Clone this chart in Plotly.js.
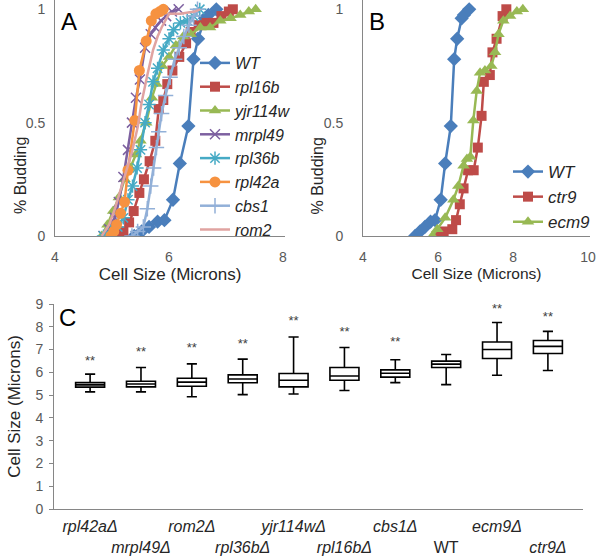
<!DOCTYPE html>
<html>
<head>
<meta charset="utf-8">
<script src="https://cdn.plot.ly/plotly-3.0.1.min.js"></script>
<style>html,body{margin:0;padding:0;background:#fff;}#chart{width:600px;height:556px;}</style>
</head>
<body>
<div id="chart"></div>
<script>
// ---- Panel A / B : cumulative % budding vs cell size ----
const wtX = [5.39,5.52,5.65,5.80,5.92,6.07,6.19,6.34,6.43,6.51,6.63,6.69,6.83];
const wtY = [0,0.02,0.04,0.063,0.07,0.16,0.32,0.485,0.78,0.87,0.96,0.975,1.0];
const rpl16bX = [5.08,5.2,5.3,5.38,5.48,5.56,5.66,5.76,5.82,5.90,5.97,6.06,6.18,6.30,6.38,6.52,6.66,6.78,6.92,7.05,7.12];
const rpl16bY = [0,0.02,0.06,0.11,0.19,0.25,0.33,0.42,0.56,0.60,0.67,0.73,0.79,0.85,0.90,0.93,0.94,0.94,0.97,0.99,1.0];
const yjr114wX = [4.82,4.92,5.02,5.12,5.22,5.32,5.42,5.50,5.60,5.70,5.78,5.88,6.00,6.12,6.25,6.38,6.55,6.72,6.90,7.08,7.25,7.40,7.52];
const yjr114wY = [0,0.05,0.11,0.17,0.25,0.30,0.36,0.42,0.50,0.61,0.67,0.75,0.79,0.84,0.88,0.89,0.92,0.92,0.95,0.96,0.975,0.99,1.0];
const mrpl49X = [4.85,4.95,5.05,5.12,5.20,5.28,5.35,5.42,5.49,5.58,5.68,5.76,5.86,5.95,6.05,6.17];
const mrpl49Y = [0,0.03,0.08,0.15,0.26,0.38,0.50,0.61,0.69,0.83,0.89,0.92,0.95,0.97,0.99,1.0];
const rpl36bX = [4.85,4.98,5.1,5.2,5.28,5.36,5.44,5.50,5.58,5.65,5.72,5.80,5.90,6.0,6.08,6.2,6.32,6.43,6.54];
const rpl36bY = [0,0.02,0.04,0.08,0.16,0.22,0.30,0.38,0.50,0.58,0.68,0.74,0.82,0.87,0.91,0.94,0.95,0.97,1.0];
const rpl42aX = [4.98,5.03,5.08,5.15,5.22,5.28,5.40,5.48,5.60,5.69,5.77,5.84,5.90];
const rpl42aY = [0,0.02,0.05,0.10,0.15,0.29,0.51,0.73,0.86,0.95,0.98,0.99,1.0];
const cbs1X = [5.35,5.45,5.55,5.62,5.68,5.73,5.78,5.82,5.87,5.94,6.02,6.10,6.18,6.26,6.35,6.43,6.50];
const cbs1Y = [0,0.02,0.04,0.12,0.22,0.30,0.39,0.46,0.54,0.62,0.70,0.78,0.83,0.88,0.93,0.97,1.0];
const rom2X = [4.82,4.95,5.05,5.15,5.25,5.35,5.45,5.52,5.62,5.72,5.80,5.87,6.0,6.2,6.45,6.55];
const rom2Y = [0,0.05,0.12,0.2,0.28,0.37,0.48,0.59,0.71,0.82,0.88,0.92,0.98,0.98,0.99,1.0];
const ctr9X = [6.05,6.15,6.38,6.48,6.58,6.68,6.80,6.95,7.06,7.16,7.22,7.38,7.45,7.56,7.72,7.82];
const ctr9Y = [0,0.02,0.03,0.07,0.14,0.21,0.29,0.29,0.39,0.53,0.68,0.71,0.81,0.87,0.97,1.0];
const ecm9X = [5.85,5.98,6.19,6.41,6.54,6.68,6.77,6.86,6.94,7.03,7.12,7.25,7.42,7.52,7.61,7.74,7.92,8.10,8.26];
const ecm9Y = [0.0,0.03,0.08,0.16,0.22,0.31,0.34,0.35,0.51,0.64,0.72,0.73,0.75,0.81,0.89,0.95,0.97,0.99,1.0];

// ---- Panel C : box plots ----
const strains = ["rpl42aΔ","mrpl49Δ","rom2Δ","rpl36bΔ","yjr114wΔ","rpl16bΔ","cbs1Δ","WT","ecm9Δ","ctr9Δ"];
const strainLabels = ["<i>rpl42aΔ</i>","<br><i>mrpl49Δ</i>","<i>rom2Δ</i>","<br><i>rpl36bΔ</i>","<i>yjr114wΔ</i>","<br><i>rpl16bΔ</i>","<i>cbs1Δ</i>","<br>WT","<i>ecm9Δ</i>","<br><i>ctr9Δ</i>"];
const lowW  = [5.14,5.14,4.93,5.02,5.05,5.20,5.55,5.46,5.87,6.08];
const q1    = [5.35,5.36,5.39,5.54,5.36,5.65,5.79,6.21,6.61,6.83];
const med   = [5.45,5.49,5.57,5.71,5.65,5.84,5.96,6.36,7.00,7.14];
const q3    = [5.55,5.61,5.74,5.89,5.95,6.21,6.11,6.49,7.33,7.40];
const highW = [5.92,6.21,6.37,6.58,7.55,7.09,6.55,6.78,8.19,7.80];
const starY = [6.48,6.84,7.02,7.21,8.24,7.75,7.28,null,8.75,8.38];
const starText = ["**","**","**","**","**","**","**","","**","**"];

const FONT = "Arial, 'Liberation Sans', sans-serif";
const AX = "#868686";
const TXT = "#404040";

function ser(x, y, name, color, symbol, size, xa, ya, legend, mode, mline) {
  return {
    type: "scatter", mode: mode || "lines+markers", x: x, y: y, name: name,
    xaxis: xa, yaxis: ya, legend: legend,
    line: {color: color, width: 2.5},
    marker: Object.assign({symbol: symbol, size: size, color: color}, mline ? {line: {color: color, width: mline}} : {}),
    hoverinfo: "skip"
  };
}

const traces = [
  ser(wtX, wtY, "WT", "#4a7ebb", "diamond", 11, "x", "y", "legend"),
  ser(rpl16bX, rpl16bY, "rpl16b", "#be4b48", "square", 10, "x", "y", "legend"),
  ser(yjr114wX, yjr114wY, "yjr114w", "#98b954", "triangle-up", 11, "x", "y", "legend"),
  ser(mrpl49X, mrpl49Y, "mrpl49", "#7d60a0", "x-thin-open", 10, "x", "y", "legend", null, 1.5),
  ser(rpl36bX, rpl36bY, "rpl36b", "#46aac5", "asterisk-open", 11, "x", "y", "legend", null, 1.5),
  ser(rpl42aX, rpl42aY, "rpl42a", "#f69240", "circle", 11, "x", "y", "legend"),
  ser(cbs1X, cbs1Y, "cbs1", "#92b0d8", "cross-thin-open", 11, "x", "y", "legend", null, 1.5),
  ser(rom2X, rom2Y, "rom2", "#e0a3a1", "circle", 1, "x", "y", "legend", "lines"),
  ser(wtX, wtY, "WT", "#4a7ebb", "diamond", 11, "x2", "y2", "legend2"),
  ser(ctr9X, ctr9Y, "ctr9", "#be4b48", "square", 10, "x2", "y2", "legend2"),
  ser(ecm9X, ecm9Y, "ecm9", "#98b954", "triangle-up", 11, "x2", "y2", "legend2"),
  {
    type: "box", x: strains, q1: q1, median: med, q3: q3, lowerfence: lowW, upperfence: highW,
    xaxis: "x3", yaxis: "y3", showlegend: false, boxpoints: false,
    width: 0.57, whiskerwidth: 0.35, fillcolor: "#ffffff",
    line: {color: "#000000", width: 1.6}, hoverinfo: "skip"
  },
  {
    type: "scatter", mode: "text", x: strains, y: starY, text: starText,
    xaxis: "x3", yaxis: "y3", showlegend: false, hoverinfo: "skip",
    textfont: {family: FONT, size: 13, color: TXT}
  }
];

const baseAx = {showgrid: false, zeroline: false, showline: true, linecolor: AX, linewidth: 1,
  tickfont: {family: FONT, size: 14, color: "#595959"}, ticks: "", fixedrange: true};

const layout = {
  width: 600, height: 556,
  margin: {l: 0, r: 0, t: 0, b: 0},
  paper_bgcolor: "#ffffff", plot_bgcolor: "#ffffff",
  font: {family: FONT, color: TXT},
  xaxis: Object.assign({}, baseAx, {domain: [55/600, 285/600], range: [4, 8.035], tickvals: [4,6,8], anchor: "y",
    ticklabelstandoff: 8,
    title: {text: "Cell Size (Microns)", font: {family: FONT, size: 17, color: "#262626"}, standoff: 0}}),
  yaxis: Object.assign({}, baseAx, {domain: [1-236/556, 1], range: [0, 1.041], tickvals: [0,0.5,1], ticktext: ["0","0.5","1"], anchor: "x",
    ticklabelstandoff: 6}),
  xaxis2: Object.assign({}, baseAx, {domain: [363/600, 590/600], range: [4, 10.05], tickvals: [4,6,8,10], anchor: "y2",
    ticklabelstandoff: 8,
    title: {text: "Cell Size (Microns)", font: {family: FONT, size: 15.5, color: "#262626"}, standoff: 0}}),
  yaxis2: Object.assign({}, baseAx, {domain: [1-236/556, 1], range: [0, 1.041], tickvals: [0,0.5,1], ticktext: ["0","0.5","1"], anchor: "x2",
    ticklabelstandoff: 16}),
  xaxis3: Object.assign({}, baseAx, {domain: [54/600, 583/600], type: "category", range: [-0.71, 9.69], anchor: "y3",
    tickvals: strains, ticktext: strainLabels, ticklabelstandoff: 3, tickangle: 0,
    tickfont: {family: FONT, size: 16, color: "#262626"}}),
  yaxis3: Object.assign({}, baseAx, {domain: [1-509/556, 1-304/556], range: [0, 9], dtick: 1, tick0: 0, anchor: "x3",
    ticks: "outside", ticklen: 4, tickcolor: AX, ticklabelstandoff: 3,
    tickfont: {family: FONT, size: 14, color: "#595959"},
    title: {text: "Cell Size (Microns)", font: {family: FONT, size: 17, color: "#262626"}, standoff: 10}}),
  legend: {x: 195/600, y: 1-46/556, xanchor: "left", yanchor: "top", bgcolor: "rgba(0,0,0,0)",
    font: {family: FONT, size: 16, color: "#262626", style: "italic"}, itemwidth: 30, tracegroupgap: 0},
  legend2: {x: 508/600, y: 1-154/556, xanchor: "left", yanchor: "top", bgcolor: "rgba(0,0,0,0)",
    font: {family: FONT, size: 17, color: "#262626", style: "italic"}, itemwidth: 30},
  annotations: [
    {text: "A", x: 59/600, y: 1-6/556, xref: "paper", yref: "paper", xanchor: "left", yanchor: "top", showarrow: false,
     font: {family: FONT, size: 24, color: "#000"}},
    {text: "B", x: 367/600, y: 1-6/556, xref: "paper", yref: "paper", xanchor: "left", yanchor: "top", showarrow: false,
     font: {family: FONT, size: 24, color: "#000"}},
    {text: "C", x: 57/600, y: 1-302/556, xref: "paper", yref: "paper", xanchor: "left", yanchor: "top", showarrow: false,
     font: {family: FONT, size: 24, color: "#000"}},
    {text: "% Budding", x: 10/600, y: 1-135/556, xref: "paper", yref: "paper", textangle: -90, showarrow: false,
     font: {family: FONT, size: 16, color: "#262626"}},
    {text: "% Budding", x: 317/600, y: 1-136/556, xref: "paper", yref: "paper", textangle: -90, showarrow: false,
     font: {family: FONT, size: 16, color: "#262626"}}
  ]
};

Plotly.newPlot("chart", traces, layout, {staticPlot: true, displayModeBar: false});
</script>
</body>
</html>
